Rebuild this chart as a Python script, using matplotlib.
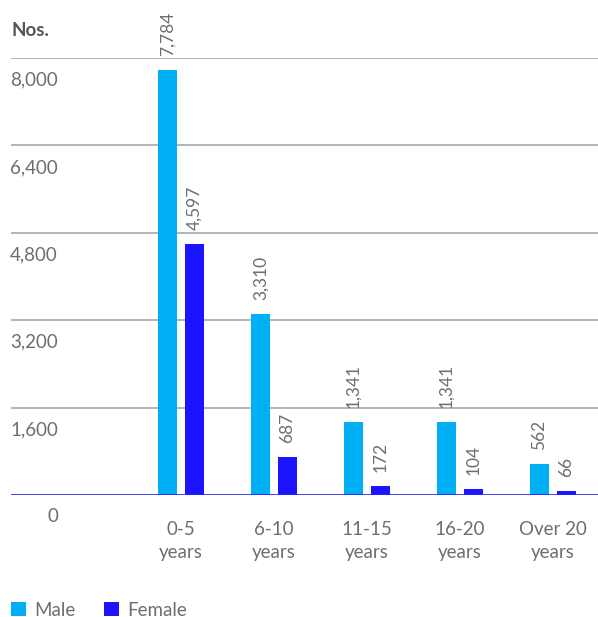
import matplotlib.pyplot as plt
import matplotlib.transforms as mtransforms
import numpy as np

categories = ["0-5\nyears", "6-10\nyears", "11-15\nyears", "16-20\nyears", "Over 20\nyears"]
male = [7784, 3310, 1341, 1341, 562]
female = [4597, 687, 172, 104, 66]
yticks = [0, 1600, 3200, 4800, 6400, 8000]

MALE_C = "#00b0f6"
FEMALE_C = "#1d14ff"
TEXT_C = "#6e6e6e"

plt.rcParams["font.family"] = ["Lato", "DejaVu Sans"]

W, H = 598, 617
fig = plt.figure(figsize=(W / 100, H / 100), dpi=100)
ax = fig.add_axes([11 / W, (H - 495) / H, (W - 11) / W, (495 - 58) / H])

x = np.arange(len(categories))
width = 0.204
off = 0.145
ax.bar(x - off, male, width, color=MALE_C, label="Male")
ax.bar(x + off, female, width, color=FEMALE_C, label="Female")

ax.set_xlim(-1.828, 4.484)
ax.set_ylim(0, 8000)

for spine in ax.spines.values():
    spine.set_visible(False)
ax.set_xticks([])
ax.set_yticks([])

# gridlines and the blue baseline
for v in yticks[1:]:
    ax.axhline(v, color="#a8a8a8", lw=1.2, zorder=0)
ax.axhline(0, color="#2222ff", lw=1.2, zorder=3)

# y labels sit under their gridline, right-aligned
lab_tr = mtransforms.blended_transform_factory(fig.transFigure, ax.transData)
for v in yticks:
    t = lab_tr + mtransforms.ScaledTranslation(0, -22 / 100, fig.dpi_scale_trans)
    ax.text(58 / W, v, f"{v:,}", transform=t, ha="right", va="center",
            fontsize=13.5, color=TEXT_C, clip_on=False)

fig.text(11 / W, 1 - 30 / H, "Nos.", ha="left", va="center",
         fontsize=13.5, fontweight="bold", color="#555555")

# rotated value labels above each bar
for xs, vals in ((x - off, male), (x + off, female)):
    for xi, v in zip(xs, vals):
        t = ax.transData + mtransforms.ScaledTranslation(0, 14 / 100, fig.dpi_scale_trans)
        ax.text(xi, v, f"{v:,}", transform=t, rotation=90, ha="center", va="bottom",
                fontsize=12.5, color=TEXT_C, clip_on=False)

# category labels below the baseline
cat_tr = ax.transData + mtransforms.ScaledTranslation(0, -26 / 100, fig.dpi_scale_trans)
for xi, c in zip(x, categories):
    ax.text(xi, 0, c, transform=cat_tr, ha="center", va="top", fontsize=13.5,
            color=TEXT_C, linespacing=1.45, clip_on=False)

fig.legend(loc="center left", bbox_to_anchor=(11 / W, 1 - 610 / H), ncol=2,
           frameon=False, borderpad=0, borderaxespad=0,
           fontsize=13.5, handlelength=0.8, handleheight=0.8, handletextpad=0.45,
           columnspacing=1.5, labelcolor=TEXT_C)

fig.savefig("out.png", dpi=100)
